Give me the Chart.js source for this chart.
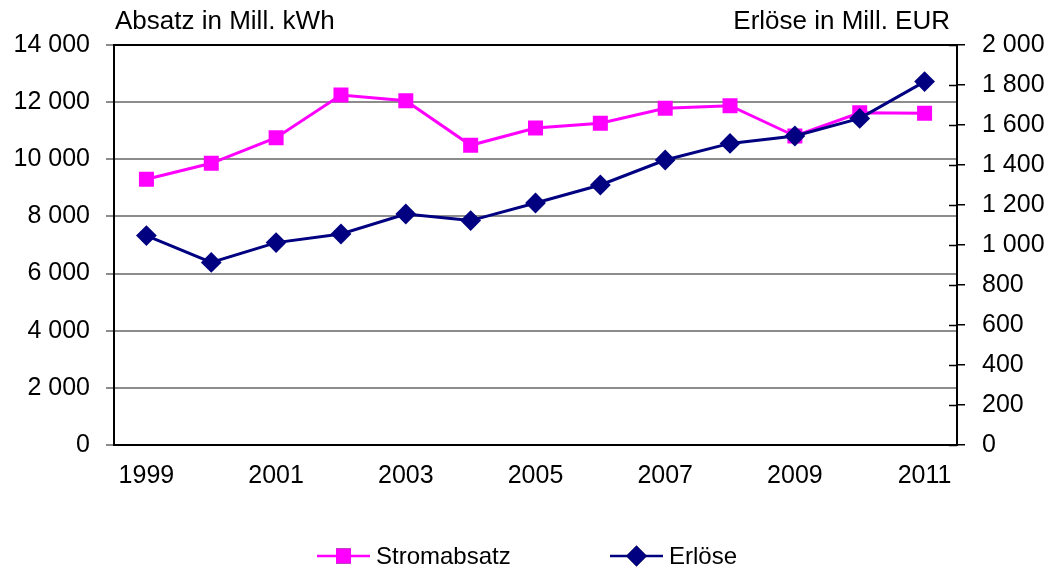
<!DOCTYPE html>
<html>
<head>
<meta charset="utf-8">
<title>Stromabsatz und Erlöse</title>
<script src="https://cdn.jsdelivr.net/npm/chart.js@4.4.0/dist/chart.umd.min.js"></script>
<style>
    html, body { margin: 0; padding: 0; background: #fff; }
    #wrap { width: 1052px; height: 569px; }
</style>
</head>
<body>
<div id="wrap"><canvas id="chart" width="1052" height="569"></canvas></div>
<script>
// Data
const years = ['1999', '2000', '2001', '2002', '2003', '2004', '2005', '2006', '2007', '2008', '2009', '2010', '2011'];
const stromabsatz = [9300, 9860, 10755, 12250, 12050, 10490, 11095, 11260, 11785, 11875, 10815, 11630, 11610];
const erloese = [1047, 913, 1012, 1055, 1155, 1122, 1210, 1300, 1425, 1508, 1545, 1633, 1817];
const seriesNames = ['Stromabsatz', 'Erlöse'];
const leftTitle = 'Absatz in Mill. kWh';
const rightTitle = 'Erlöse in Mill. EUR';

const FONT = '"Liberation Sans", Arial, sans-serif';
const MAGENTA = '#FF00FF';
const NAVY = '#000080';

// "14 000" style numbers
function fmt(v) {
    return String(v).replace(/\B(?=(\d{3})+(?!\d))/g, ' ');
}

// Frame, titles, inner ticks of the right axis and the legend
const decor = {
    id: 'decor',
    afterDraw(chart) {
        const { ctx, chartArea: a, scales } = chart;
        ctx.save();

        ctx.strokeStyle = '#000';
        ctx.lineWidth = 1.5;
        scales.y2.ticks.forEach((t, i) => {
            const y = Math.round(scales.y2.getPixelForTick(i)) + 0.5;
            ctx.beginPath();
            ctx.moveTo(a.right - 8, y);
            ctx.lineTo(a.right, y);
            ctx.stroke();
        });

        ctx.lineWidth = 2;
        ctx.strokeRect(a.left, a.top, a.right - a.left, a.bottom - a.top);

        ctx.fillStyle = '#000';
        ctx.font = '26px ' + FONT;
        ctx.textBaseline = 'alphabetic';
        ctx.textAlign = 'left';
        ctx.fillText(leftTitle, a.left + 1, 29);
        ctx.textAlign = 'right';
        ctx.fillText(rightTitle, a.right - 7, 29);

        // legend: line with marker, then label
        const items = [{ x: 317, ds: 0 }, { x: 610, ds: 1 }];
        const ly = 556;
        ctx.font = '24px ' + FONT;
        ctx.textAlign = 'left';
        ctx.textBaseline = 'middle';
        items.forEach(it => {
            const ds = chart.data.datasets[it.ds];
            ctx.strokeStyle = ds.borderColor;
            ctx.lineWidth = 2.5;
            ctx.beginPath();
            ctx.moveTo(it.x, ly);
            ctx.lineTo(it.x + 53, ly);
            ctx.stroke();
            Chart.helpers.drawPoint(ctx, {
                pointStyle: ds.pointStyle,
                radius: ds.pointRadius,
                borderWidth: 0
            }, it.x + 26.5, ly);
            ctx.fillStyle = ds.borderColor;
            ctx.fill();
            ctx.fillStyle = '#000';
            ctx.fillText(ds.label, it.x + 59, ly + 1);
        });

        ctx.restore();
    }
};

new Chart(document.getElementById('chart').getContext('2d'), {
    type: 'line',
    data: {
        labels: years,
        datasets: [{
            label: seriesNames[0],
            data: stromabsatz,
            yAxisID: 'y',
            order: 2,
            borderColor: MAGENTA,
            backgroundColor: MAGENTA,
            borderWidth: 3,
            pointStyle: 'rect',
            pointRadius: 10.6,
            pointBorderWidth: 0,
            pointBackgroundColor: MAGENTA,
            tension: 0
        }, {
            label: seriesNames[1],
            data: erloese,
            yAxisID: 'y2',
            order: 1,
            borderColor: NAVY,
            backgroundColor: NAVY,
            borderWidth: 3,
            pointStyle: 'rectRot',
            pointRadius: 10.4,
            pointBorderWidth: 0,
            pointBackgroundColor: NAVY,
            tension: 0
        }]
    },
    options: {
        responsive: false,
        animation: false,
        layout: { padding: { top: 45, left: 0, right: 0, bottom: 0 } },
        plugins: {
            legend: { display: false },
            tooltip: { enabled: false }
        },
        scales: {
            x: {
                offset: true,
                grid: { display: false, drawTicks: false },
                border: { display: false },
                ticks: {
                    autoSkip: false,
                    maxRotation: 0,
                    color: '#000',
                    padding: 16,
                    font: { family: FONT, size: 25 },
                    callback: function (val, idx) {
                        return idx % 2 === 0 ? this.getLabelForValue(val) : '';
                    }
                },
                afterFit: s => { s.height = 124; }
            },
            y: {
                position: 'left',
                min: 0,
                max: 14000,
                grid: { color: '#8c8c8c', lineWidth: 2, tickLength: 8, tickColor: '#8c8c8c' },
                border: { display: false },
                ticks: {
                    stepSize: 2000,
                    color: '#000',
                    padding: 16,
                    font: { family: FONT, size: 25 },
                    callback: v => fmt(v)
                },
                afterFit: s => { s.width = 114; }
            },
            y2: {
                position: 'right',
                min: 0,
                max: 2000,
                grid: { drawOnChartArea: false, tickLength: 8, tickColor: '#000', lineWidth: 1.5 },
                border: { display: false },
                ticks: {
                    stepSize: 200,
                    color: '#000',
                    padding: 17,
                    font: { family: FONT, size: 25 },
                    callback: v => fmt(v)
                },
                afterFit: s => { s.width = 95; }
            }
        }
    },
    plugins: [decor]
});
</script>
</body>
</html>
